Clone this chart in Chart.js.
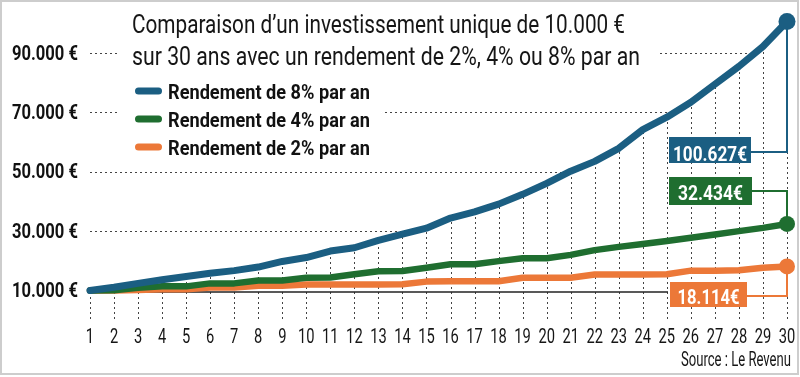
<!DOCTYPE html>
<html>
<head>
<meta charset="utf-8">
<script src="https://cdn.jsdelivr.net/npm/chart.js@4/dist/chart.umd.min.js"></script>
<style>
html,body{margin:0;padding:0;background:#fff;}
#wrap{width:800px;height:377px;position:relative;}
canvas{display:block;}
</style>
</head>
<body>
<div id="wrap"><canvas id="c" width="800" height="377"></canvas></div>
<script>
// ---------- data ----------
const years = ['1','2','3','4','5','6','7','8','9','10','11','12','13','14','15','16','17','18','19','20','21','22','23','24','25','26','27','28','29','30'];
const rend8 = [10000, 11100, 12400, 13600, 14700, 15800, 16700, 17900, 19800, 21100, 23300, 24400, 26900, 29000, 31000, 34400, 36500, 39100, 42400, 46100, 50200, 53500, 57900, 64200, 68400, 73400, 79500, 85500, 92200, 100627];
const rend4 = [10000, 10100, 10900, 11400, 11400, 12400, 12400, 13400, 13400, 14300, 14400, 15500, 16500, 16600, 17700, 18850, 18850, 19900, 20900, 20900, 22000, 23600, 24700, 25700, 26700, 27800, 28900, 30000, 31100, 32434];
const rend2 = [10000, 10000, 10200, 10400, 10400, 11000, 11000, 11600, 11600, 12000, 12000, 12000, 12000, 12100, 13000, 13150, 13150, 13150, 14300, 14300, 14300, 15400, 15400, 15400, 15500, 16700, 16700, 16800, 17700, 18114];
const yTickValues = [10000, 30000, 50000, 70000, 90000];
const yTickLabels = ['10.000 €', '30.000 €', '50.000 €', '70.000 €', '90.000 €'];
const seriesNames = ['Rendement de 8% par an', 'Rendement de 4% par an', 'Rendement de 2% par an'];
const endLabels = ['100.627€', '32.434€', '18.114€'];
const titleLines = ['Comparaison d’un investissement unique de 10.000 €', 'sur 30 ans avec un rendement de 2%, 4% ou 8% par an'];
const sourceText = 'Source : Le Revenu';

// ---------- styles ----------
const COLORS = ['#1b5e82', '#1f6e30', '#ec7838'];
const FONT = "Roboto, 'Noto Sans', sans-serif";
const INK = '#161616';

function fitText(ctx, text, x, y, w, font, color, align, sx){
  ctx.save();
  ctx.font = font; ctx.fillStyle = color; ctx.textBaseline = 'alphabetic'; ctx.textAlign = 'left';
  const m = ctx.measureText(text).width;
  const s = sx ? sx : w / m;
  const ww = m * s;
  const x0 = align === 'right' ? x - ww : (align === 'center' ? x - ww / 2 : x);
  ctx.translate(x0, y); ctx.scale(s, 1);
  ctx.fillText(text, 0, 0);
  ctx.restore();
}

// layout of decorations (pixel positions)
const TITLE_POS = [{x:132, y:33, w:493}, {x:132, y:65, w:508}];
const LEGEND_POS = [{y:91}, {y:119}, {y:147}];
const BOXES = [
  {x:669, y:137, w:82, h:26, tw:74, base:161, link:152},
  {x:669, y:177, w:83, h:28, tw:65, base:200, link:191},
  {x:670, y:282, w:77, h:25, tw:62, base:304, link:296}
];

const decor = {
  id: 'decor',
  beforeDraw(chart){
    const ctx = chart.ctx;
    ctx.save();
    ctx.fillStyle = '#fff'; ctx.fillRect(0, 0, chart.width, chart.height);
    ctx.strokeStyle = '#cdcdcd'; ctx.lineWidth = 2;
    ctx.strokeRect(1, 1, 797, 373);
    ctx.restore();
  },
  beforeDatasetsDraw(chart){
    const ctx = chart.ctx, ys = chart.scales.y, area = chart.chartArea;
    const pts = chart.getDatasetMeta(0).data;
    ctx.save();
    ctx.setLineDash([2, 3]);
    ctx.strokeStyle = '#444'; ctx.lineWidth = 1;
    // horizontal drop lines up to the 8% curve
    yTickValues.slice(1).forEach(v => {
      const py = Math.round(ys.getPixelForValue(v)) + 0.5;
      let xEnd = area.right;
      for (let i = 1; i < pts.length; i++) {
        const a = pts[i-1], b = pts[i];
        if (a.y >= py && b.y < py) { xEnd = a.x + (py - a.y) / (b.y - a.y) * (b.x - a.x); break; }
      }
      ctx.beginPath(); ctx.moveTo(area.left, py); ctx.lineTo(xEnd, py); ctx.stroke();
    });
    // vertical drop lines from below axis to the 8% curve
    pts.forEach(p => {
      const px = Math.round(p.x) + 0.5;
      ctx.beginPath(); ctx.moveTo(px, area.bottom + 27); ctx.lineTo(px, p.y); ctx.stroke();
    });
    ctx.setLineDash([]);
    // axis line
    ctx.strokeStyle = '#222'; ctx.lineWidth = 1.5;
    ctx.beginPath(); ctx.moveTo(area.left, area.bottom); ctx.lineTo(668, area.bottom); ctx.stroke();
    // connectors to the end labels
    for (let d = 0; d < 3; d++) {
      const meta = chart.getDatasetMeta(d);
      const last = meta.data[meta.data.length - 1];
      const b = BOXES[d];
      ctx.strokeStyle = COLORS[d]; ctx.lineWidth = 2;
      ctx.beginPath();
      ctx.moveTo(b.x + b.w, b.link); ctx.lineTo(Math.round(last.x), b.link); ctx.lineTo(Math.round(last.x), last.y);
      ctx.stroke();
    }
    // masks behind title and legend
    ctx.fillStyle = '#fff';
    ctx.fillRect(118, 6, 540, 64);
    ctx.fillRect(118, 76, 264, 84);
    ctx.restore();
  },
  afterDatasetsDraw(chart){
    const ctx = chart.ctx, xs = chart.scales.x, ys = chart.scales.y;
    // axis tick labels, placed by the chart's scales
    years.forEach((t, i) => {
      fitText(ctx, t, xs.getPixelForValue(i), 343, 0, '21px ' + FONT, INK, 'center', 0.7);
    });
    yTickValues.forEach((v, i) => {
      fitText(ctx, yTickLabels[i], 78, ys.getPixelForValue(v) + 6.5, 66, 'bold 21px ' + FONT, '#111', 'right');
    });
    // title
    titleLines.forEach((t, i) => fitText(ctx, t, TITLE_POS[i].x, TITLE_POS[i].y, TITLE_POS[i].w, '25px ' + FONT, INK, 'left'));
    // legend
    seriesNames.forEach((n, i) => {
      const y = LEGEND_POS[i].y;
      ctx.save();
      ctx.strokeStyle = COLORS[i]; ctx.lineWidth = 7; ctx.lineCap = 'round';
      ctx.beginPath(); ctx.moveTo(138.5, y); ctx.lineTo(158.5, y); ctx.stroke();
      ctx.restore();
      fitText(ctx, n, 168, y + 8, 202, 'bold 20px ' + FONT, '#111', 'left');
    });
    // end labels
    endLabels.forEach((t, i) => {
      const b = BOXES[i];
      ctx.save(); ctx.fillStyle = COLORS[i]; ctx.fillRect(b.x, b.y, b.w, b.h); ctx.restore();
      fitText(ctx, t, b.x + b.w / 2, b.base, b.tw, 'bold 21px ' + FONT, '#fff', 'center');
    });
    // source
    fitText(ctx, sourceText, 791, 366, 110, '20px ' + FONT, INK, 'right');
  }
};

const lastR = (r) => (c) => c.dataIndex === years.length - 1 ? r : 0;
const mk = (label, data, i, r, w) => ({
  label, data,
  borderColor: COLORS[i], backgroundColor: COLORS[i],
  borderWidth: w, borderCapStyle: 'round', borderJoinStyle: 'round',
  pointRadius: lastR(r), pointHoverRadius: lastR(r), pointBorderWidth: 0,
  pointBackgroundColor: COLORS[i], tension: 0, clip: false, fill: false
});

new Chart(document.getElementById('c'), {
  type: 'line',
  data: {
    labels: years,
    datasets: [
      mk(seriesNames[0], rend8, 0, 8.5, 7),
      mk(seriesNames[1], rend4, 1, 8, 6.5),
      mk(seriesNames[2], rend2, 2, 8, 6.5)
    ]
  },
  options: {
    responsive: false, devicePixelRatio: 1, animation: false, events: [],
    layout: {padding: {top: 3.6, right: 13, bottom: 0, left: 0}},
    plugins: {legend: {display: false}, title: {display: false}, tooltip: {enabled: false}},
    scales: {
      x: {
        type: 'category', offset: false,
        grid: {display: false, drawTicks: false}, border: {display: false},
        ticks: {display: false},
        afterFit(s){ s.height = 85; s.paddingLeft = 0; s.paddingRight = 0; }
      },
      y: {
        min: 9500, max: 105000,
        grid: {display: false, drawTicks: false}, border: {display: false},
        afterBuildTicks(s){ s.ticks = yTickValues.map(v => ({value: v})); },
        ticks: {display: false},
        afterFit(s){ s.width = 90; s.paddingTop = 0; s.paddingBottom = 0; }
      }
    }
  },
  plugins: [decor]
});
</script>
</body>
</html>
